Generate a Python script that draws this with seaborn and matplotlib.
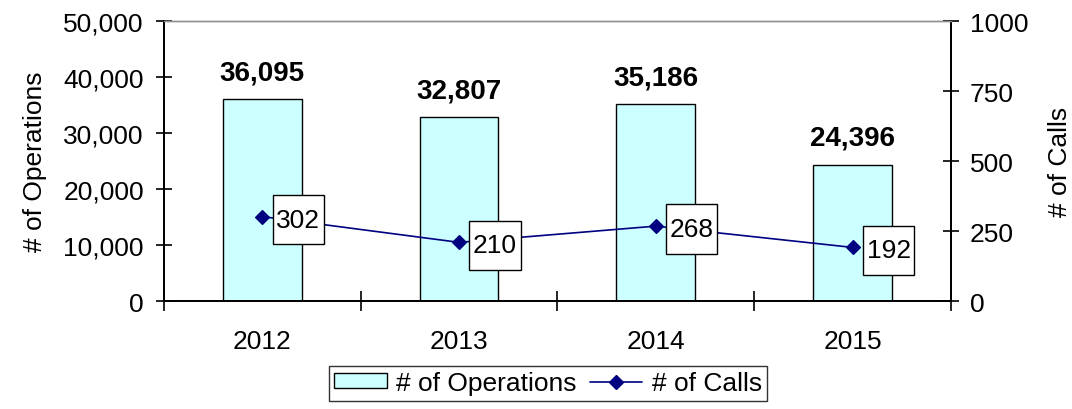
import matplotlib
matplotlib.use("Agg")
import matplotlib.pyplot as plt
import seaborn as sns
import pandas as pd
from matplotlib.ticker import FuncFormatter, FixedLocator
from matplotlib.patches import Patch
from matplotlib.lines import Line2D
from matplotlib.path import Path

years = ["2012", "2013", "2014", "2015"]
operations = [36095, 32807, 35186, 24396]
calls = [302, 210, 268, 192]

df = pd.DataFrame({"Year": years, "Operations": operations, "Calls": calls})

sns.set_theme(style="white")
plt.rcParams["font.family"] = ["Liberation Sans", "DejaVu Sans"]
plt.rcParams.update({"text.color": "black", "axes.labelcolor": "black",
                     "xtick.color": "black", "ytick.color": "black"})
FS = 19

fig = plt.figure(figsize=(10.72, 4.10), dpi=100)
ax = fig.add_axes([0.153, 0.263, 0.734, 0.683])
bar_color = "#CCFFFF"
navy = "#000080"

sns.barplot(data=df, x="Year", y="Operations", ax=ax, color=bar_color,
            edgecolor="black", linewidth=1.0, width=0.4, saturation=1)
ax.set_ylim(0, 50000)
ax.set_xlim(-0.5, 3.5)
ax.yaxis.set_major_locator(FixedLocator([0, 10000, 20000, 30000, 40000, 50000]))
ax.yaxis.set_major_formatter(FuncFormatter(lambda v, p: f"{int(v):,}"))
ax.set_ylabel("# of Operations", fontsize=FS, labelpad=12)
ax.set_xlabel("")
for c in ax.containers:
    ax.bar_label(c, labels=[f"{v:,}" for v in operations], padding=10,
                 fontsize=20, fontweight="bold")

ax2 = ax.twinx()
sns.pointplot(data=df, x="Year", y="Calls", ax=ax2, color=navy, markers="D",
              markersize=7.5, linewidth=1.2)
ax2.set_ylim(0, 1000)
ax2.set_xlim(-0.5, 3.5)
ax2.yaxis.set_major_locator(FixedLocator([0, 250, 500, 750, 1000]))
ax2.set_ylabel("# of Calls", fontsize=FS, labelpad=14)
ax2.set_xlabel("")


def label_box(x0, y0, width, height, mutation_size):
    px = 0.14 * mutation_size
    py = 0.48 * mutation_size
    x0, y0 = x0 - px, y0 - py
    x1, y1 = x0 + width + 2 * px, y0 + height + 2 * py
    return Path([(x0, y0), (x1, y0), (x1, y1), (x0, y1), (x0, y0)], closed=True)


for i, v in enumerate(calls):
    ax2.annotate(str(v), (i, v), xytext=(14, -3), textcoords="offset pixels",
                 ha="left", va="center", fontsize=FS,
                 bbox=dict(boxstyle=label_box, fc="white", ec="black", lw=1.0))

for a in (ax, ax2):
    for s in ("left", "right", "bottom"):
        a.spines[s].set_color("black")
        a.spines[s].set_linewidth(1.3)
    a.spines["top"].set_color("#909090")
    a.spines["top"].set_linewidth(1.0)
    a.grid(False)

ax.tick_params(axis="y", direction="inout", length=11, width=1.2, labelsize=FS,
               pad=9, left=True, colors="black")
ax2.tick_params(axis="y", direction="inout", length=11, width=1.2, labelsize=FS,
                pad=8, right=True, colors="black")
ax.xaxis.set_minor_locator(FixedLocator([-0.5, 0.5, 1.5, 2.5, 3.5]))
ax.tick_params(axis="x", which="major", length=0, labelsize=FS, pad=20)
ax.tick_params(axis="x", which="minor", direction="inout", length=14, width=1.2,
               bottom=True)
ax2.tick_params(axis="x", which="both", length=0, labelbottom=False)

handles = [Patch(facecolor=bar_color, edgecolor="black", linewidth=1.0),
           Line2D([0], [0], color=navy, marker="D", markersize=7, linewidth=1.2)]
leg = fig.legend(handles, ["# of Operations", "# of Calls"], loc="upper center",
                 bbox_to_anchor=(0.511, 0.105), ncol=2, fontsize=FS,
                 frameon=True, fancybox=False, edgecolor="black",
                 handlelength=2.0, handleheight=0.5, columnspacing=0.5,
                 handletextpad=0.35, borderpad=0.2, borderaxespad=0)
leg.get_frame().set_linewidth(1.0)

fig.savefig("out.png", dpi=100)
